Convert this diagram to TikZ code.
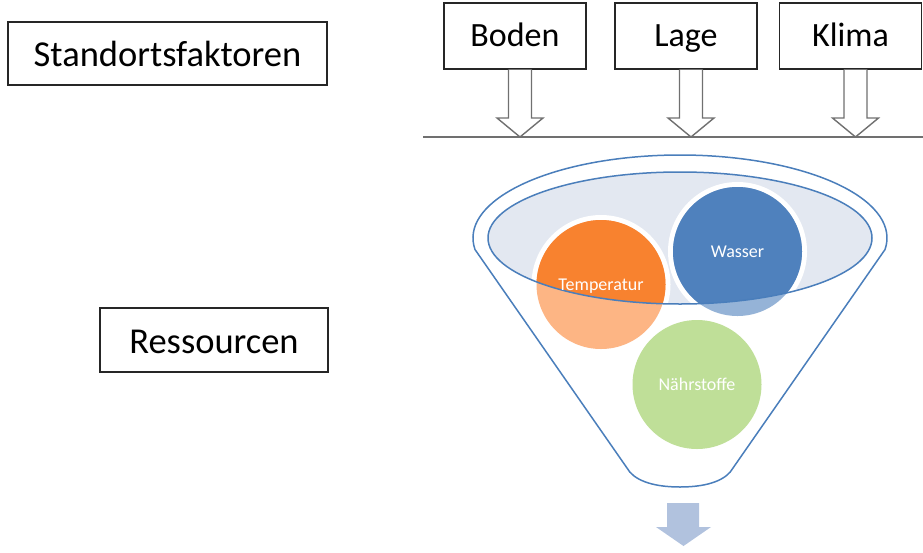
\documentclass[tikz,border=0pt]{standalone}
\usepackage{fontspec}
\setmainfont{Carlito}
\usetikzlibrary{calc}
\definecolor{funnelblue}{HTML}{4A7EBB}
\definecolor{rimfill}{HTML}{E3E8F1}
\definecolor{orangefull}{HTML}{F8822F}
\definecolor{orangelight}{HTML}{FDB584}
\definecolor{bluefull}{HTML}{4F81BD}
\definecolor{bluelight}{HTML}{95B3D7}
\definecolor{greenlight}{HTML}{BFDF98}
\definecolor{outarrow}{HTML}{B1C2DE}
\definecolor{arrowgray}{HTML}{707070}
\tikzset{
  labelbox/.style={draw=black!85, line width=1.3pt, inner sep=0pt,
    font=\fontsize{36.5}{40}\selectfont, text height=26.3pt, text depth=0pt},
  factorbox/.style={draw=black!85, line width=1.3pt, inner sep=0pt,
    minimum width=142pt, minimum height=66pt,
    font=\fontsize{34}{38}\selectfont, text height=21.1pt, text depth=0pt},
  hollowarrow/.style={draw=arrowgray, line width=1.4pt, fill=white, line join=miter},
  funnelline/.style={draw=funnelblue, line width=1.5pt},
  ball/.style={circle, inner sep=0pt, minimum size=129pt, text=white,
    font=\fontsize{18}{20}\selectfont, text height=11.6pt, text depth=0pt},
}
\begin{document}
\begin{tikzpicture}[x=1pt,y=-1pt]
\useasboundingbox (0,0) rectangle (923,552);

% left-hand labels
\node[labelbox, minimum width=319pt, minimum height=63pt] (standort) at (167.5,53.5) {Standortsfaktoren};
\node[labelbox, minimum width=228pt, minimum height=64pt] (ressourcen) at (214,340) {Ressourcen};

% the three site factors
\node[factorbox] (boden) at (515,36) {Boden};
\node[factorbox] (lage)  at (686,36) {Lage};
\node[factorbox] (klima) at (850.5,36) {Klima};

% dividing line
\coordinate (lineL) at (423,137);
\coordinate (lineR) at (923,137);
\draw[draw=arrowgray, line width=1.4pt] (lineL) -- (lineR);

% hollow block arrows from each factor down to the line
\foreach \n in {boden,lage,klima}{
  \draw[hollowarrow] ($(\n.south)+(-6.5,0)$) -- ($(\n.south |- lineL)+(-6.5,-19)$)
    -- ($(\n.south |- lineL)+(-18,-19)$) -- ($(\n.south |- lineL)+(5,0)$)
    -- ($(\n.south |- lineL)+(28,-19)$) -- ($(\n.south |- lineL)+(16.5,-19)$)
    -- ($(\n.south)+(16.5,0)$);
}

% funnel body: top rim arc, sides and rounded bottom
\coordinate (fc) at (680,238);
\draw[funnelline, fill=white]
  ($(fc)+(172:207 and 83)$) arc[start angle=172, end angle=368, x radius=207, y radius=83]
  -- (733,468) .. controls (727,479) and (710,487) .. (680,487)
  .. controls (650,487) and (633,479) .. (627,468) -- cycle;

% inner rim
\fill[rimfill] (fc) ellipse[x radius=192, y radius=66];

% resource balls (white rings first)
\coordinate (ct) at (601,284.5);
\coordinate (cw) at (737.5,251.5);
\fill[white] (ct) circle[radius=69.5];
\fill[white] (cw) circle[radius=69.5];
\fill[orangelight] (ct) circle[radius=64.5];
\fill[bluelight] (cw) circle[radius=64.5];
\begin{scope}
  \clip (fc) ellipse[x radius=192, y radius=66];
  \fill[orangefull] (ct) circle[radius=64.5];
  \fill[bluefull] (cw) circle[radius=64.5];
\end{scope}
\draw[funnelline] (fc) ellipse[x radius=192, y radius=66];

\node[ball] (temp) at (ct) {Temperatur};
\node[ball] (wasser) at (cw) {Wasser};
\node[ball, fill=greenlight] (naehr) at (697,384.5) {Nährstoffe};

% output arrow below the funnel
\fill[outarrow] (667,503) -- (699,503) -- (699,527) -- (711,527) -- (683.5,546)
  -- (656,527) -- (667,527) -- cycle;
\end{tikzpicture}
\end{document}
